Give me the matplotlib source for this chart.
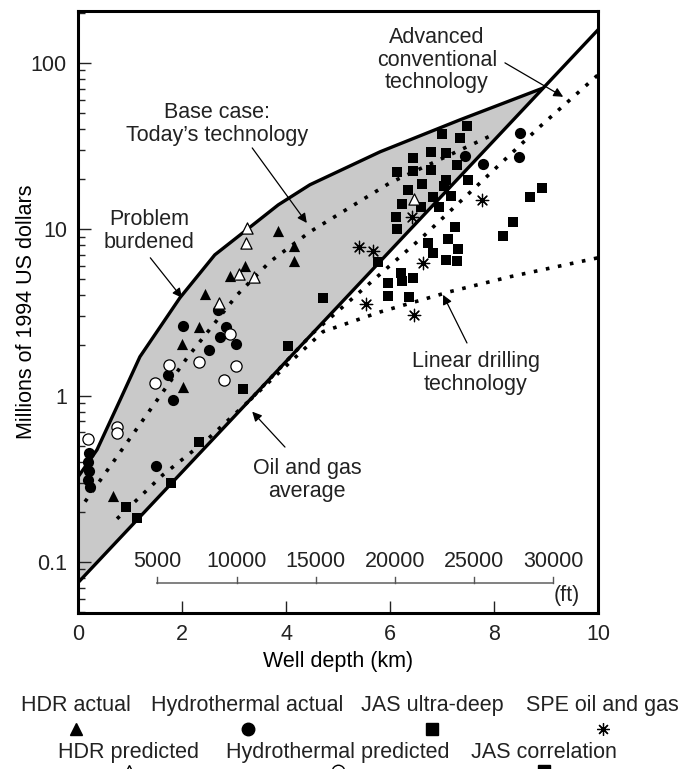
import matplotlib.pyplot as plt
from matplotlib.lines import Line2D
import numpy as np

plt.rcParams['font.family'] = ['Liberation Sans', 'DejaVu Sans']
plt.rcParams['text.color'] = '#222222'
plt.rcParams['xtick.color'] = '#222222'
plt.rcParams['ytick.color'] = '#222222'
FS = 15.5

# --- curves (well depth km, cost M$) ---
upper_x = [0, 0.365, 0.81, 1.19, 1.96, 2.63, 3.31, 3.85, 4.46, 5.81, 7.35, 8.94]
upper_y = [0.324, 0.472, 0.942, 1.71, 3.87, 7.01, 10.3, 14.0, 18.5, 29.2, 45.5, 70.5]

oil_x = [0, 10]
oil_y = [0.075, 158]

base_x = [0.135, 2.10, 3.06, 3.69, 4.46, 6.0, 7.98]
base_y = [0.23, 1.69, 4.03, 6.37, 9.64, 19.0, 37.0]

adv_x = [0.75, 1.63, 2.48, 3.31, 4.52, 6.63, 8.88, 10]
adv_y = [0.1815, 0.333, 0.542, 0.942, 2.38, 9.0, 41.3, 84.7]

lin_x = [3.31, 4.08, 4.71, 5.81, 7.15, 8.31, 10]
lin_y = [0.942, 1.59, 2.42, 3.18, 4.21, 5.18, 6.73]

# --- scatter data ---
hdr_act_x = [3.85, 3.21, 2.92, 2.44, 2.33, 2.00, 4.15, 4.15, 2.02, 0.67]
hdr_act_y = [9.8, 6.03, 5.25, 4.09, 2.59, 2.05, 7.94, 6.46, 1.13, 0.249]

hdr_pred_x = [3.25, 3.23, 3.10, 3.38, 2.71, 6.46]
hdr_pred_y = [10.2, 8.28, 5.39, 5.17, 3.61, 15.2]

hyd_act_x = [2.69, 2.02, 2.85, 2.73, 3.04, 2.52, 1.73, 1.83, 1.50,
             0.21, 0.19, 0.21, 0.19, 0.23, 7.44, 7.79, 8.50, 8.48]
hyd_act_y = [3.28, 2.63, 2.59, 2.25, 2.05, 1.88, 1.33, 0.94, 0.378,
             0.45, 0.40, 0.35, 0.31, 0.28, 27.6, 24.7, 38.0, 27.3]

hyd_pred_x = [2.92, 2.33, 1.75, 1.48, 3.04, 2.81, 0.75, 0.75, 0.19]
hyd_pred_y = [2.35, 1.60, 1.53, 1.19, 1.51, 1.24, 0.649, 0.597, 0.550]

jas_x = [7.48, 7.00, 7.35, 6.79, 7.08, 6.44, 7.29, 6.13, 6.44, 6.79,
         7.08, 7.50, 6.62, 7.04, 6.35, 6.83, 7.17, 6.23, 6.60, 6.94,
         6.12, 6.13, 8.92, 8.69, 8.37, 8.17, 7.25, 7.12, 6.73, 7.31,
         6.83, 7.08, 7.29, 6.21, 6.23, 6.44, 5.96, 5.96, 6.37, 5.77,
         4.71, 4.04, 3.17, 2.33, 1.79, 0.92, 1.13]
jas_y = [41.9, 37.5, 35.5, 29.2, 28.8, 26.9, 24.4, 22.1, 22.5, 22.8,
         19.8, 19.8, 18.8, 18.2, 17.3, 15.7, 15.9, 14.2, 13.6, 13.6,
         11.9, 10.05, 17.7, 15.7, 11.1, 9.1, 10.3, 8.75, 8.28, 7.62,
         7.21, 6.55, 6.46, 5.47, 4.89, 5.10, 4.76, 3.98, 3.92, 6.37,
         3.87, 1.99, 1.10, 0.527, 0.30, 0.214, 0.184]

spe_x = [5.40, 5.67, 6.63, 5.54, 6.46, 6.42, 7.77]
spe_y = [7.84, 7.41, 6.28, 3.56, 3.06, 11.9, 15.0]

ft_ticks = [5000, 10000, 15000, 20000, 25000, 30000]


def log_interp(x, xs, ys):
    return 10 ** np.interp(x, xs, np.log10(ys))


fig = plt.figure(figsize=(6.88, 7.69), dpi=100)
ax = fig.add_axes([0.1134, 0.2029, 0.7558, 0.7828])
ax.set_yscale('log')
ax.set_xlim(0, 10)
ax.set_ylim(0.0493, 205)

# shaded envelope
xx = np.linspace(0, upper_x[-1], 300)
ax.fill_between(xx, log_interp(xx, oil_x, oil_y), log_interp(xx, upper_x, upper_y),
                color='#c9c9c9', lw=0, zorder=1)
ax.plot(upper_x, upper_y, color='black', lw=2.4, zorder=3, solid_capstyle='butt')
ax.plot(oil_x, oil_y, color='black', lw=2.4, zorder=3)

dot = (0, (1, 2.4))
for lx, ly in [(base_x, base_y), (adv_x, adv_y), (lin_x, lin_y)]:
    ax.plot(lx, ly, color='black', lw=2.6, linestyle=dot, zorder=2)

ms = 55
ax.scatter(jas_x, jas_y, marker='s', s=ms, color='black', lw=0, zorder=4)
ax.scatter(hyd_act_x, hyd_act_y, marker='o', s=ms + 10, color='black', lw=0, zorder=4)
ax.scatter(hyd_pred_x, hyd_pred_y, marker='o', s=ms + 10, facecolor='white',
           edgecolor='black', lw=0.9, zorder=4)
ax.scatter(hdr_act_x, hdr_act_y, marker='^', s=ms + 10, color='black', lw=0, zorder=4)
ax.scatter(hdr_pred_x, hdr_pred_y, marker='^', s=ms + 10, facecolor='white',
           edgecolor='black', lw=0.9, zorder=4)
ax.scatter(spe_x, spe_y, marker=(8, 2, 0), s=ms + 25, color='black', lw=0.9, zorder=4)

# feet scale inside the plot
ft_km = [f * 0.3048 / 1000 for f in ft_ticks]
y_ft = 0.0748
ax.plot([ft_km[0], ft_km[-1]], [y_ft, y_ft], color='#777777', lw=1.3, zorder=2)
for fk, f in zip(ft_km, ft_ticks):
    ax.plot([fk, fk], [y_ft, y_ft * 1.09], color='#555555', lw=1.0, zorder=2)
    ax.text(fk, 0.1, str(f), ha='center', va='center', fontsize=FS)
ax.text(ft_km[-1] + 0.25, 0.0465 * 1.35, '(ft)', ha='center', va='center', fontsize=FS)

# annotations
arrow = dict(arrowstyle='-|>', color='black', lw=0.9, mutation_scale=14,
             shrinkA=0, shrinkB=0)
ax.text(6.9, 104, 'Advanced\nconventional\ntechnology',
        ha='center', va='center', fontsize=FS, linespacing=1.1)
ax.annotate('', xy=(9.33, 62.5), xytext=(8.21, 100), arrowprops=arrow)
ax.text(2.67, 43, 'Base case:\nToday\u2019s technology',
        ha='center', va='center', fontsize=FS, linespacing=1.1)
ax.annotate('', xy=(4.40, 10.9), xytext=(3.35, 30.8), arrowprops=arrow)
ax.text(1.37, 9.77, 'Problem\nburdened',
        ha='center', va='center', fontsize=FS, linespacing=1.1)
ax.annotate('', xy=(2.0, 3.87), xytext=(1.39, 6.73), arrowprops=arrow)
ax.text(4.4, 0.31, 'Oil and gas\naverage',
        ha='center', va='center', fontsize=FS, linespacing=1.1)
ax.annotate('', xy=(3.35, 0.80), xytext=(3.98, 0.49), arrowprops=arrow)
ax.text(7.65, 1.37, 'Linear drilling\ntechnology',
        ha='center', va='center', fontsize=FS, linespacing=1.1)
ax.annotate('', xy=(7.02, 4.03), xytext=(7.48, 2.07), arrowprops=arrow)

# axes styling
for sp in ax.spines.values():
    sp.set_linewidth(2.2)
ax.set_xticks([0, 2, 4, 6, 8, 10])
ax.set_xticklabels(['0', '2', '4', '6', '8', '10'])
ax.set_yticks([0.1, 1, 10, 100])
ax.set_yticklabels(['0.1', '1', '10', '100'])
ax.tick_params(axis='both', which='major', direction='in', length=9, width=1.0,
               labelsize=FS, pad=8)
ax.tick_params(axis='y', which='minor', direction='in', length=5, width=1.0)
ax.tick_params(axis='x', which='minor', length=0)
ax.set_xlabel('Well depth (km)', fontsize=FS, labelpad=4)
ax.set_ylabel('Millions of 1994 US dollars', fontsize=FS)
ax.yaxis.set_label_coords(-0.079, 0.5)

# legend below, labels above their marker symbols
legend_rows = [
    [('HDR actual', dict(marker='^', color='black')),
     ('Hydrothermal actual', dict(marker='o', color='black')),
     ('JAS ultra-deep', dict(marker='s', color='black')),
     ('SPE oil and gas', dict(marker=(8, 2, 0), color='black', markeredgewidth=0.9))],
    [('HDR predicted', dict(marker='^', markerfacecolor='white', markeredgecolor='black')),
     ('Hydrothermal predicted', dict(marker='o', markerfacecolor='white', markeredgecolor='black')),
     ('JAS correlation', dict(marker='s', color='black'))],
]
legend_xc = [[0.110, 0.360, 0.628, 0.876], [0.187, 0.491, 0.791]]
legend_ty = [0.083, 0.022]
legend_my = [0.052, -0.003]
for row, xcs, ty, my in zip(legend_rows, legend_xc, legend_ty, legend_my):
    for (label, style), xc in zip(row, xcs):
        fig.text(xc, ty, label, ha='center', va='center', fontsize=FS)
        fig.add_artist(Line2D([xc], [my], transform=fig.transFigure, markersize=9,
                              linestyle='none', **style))

fig.savefig('out.png', dpi=100)
